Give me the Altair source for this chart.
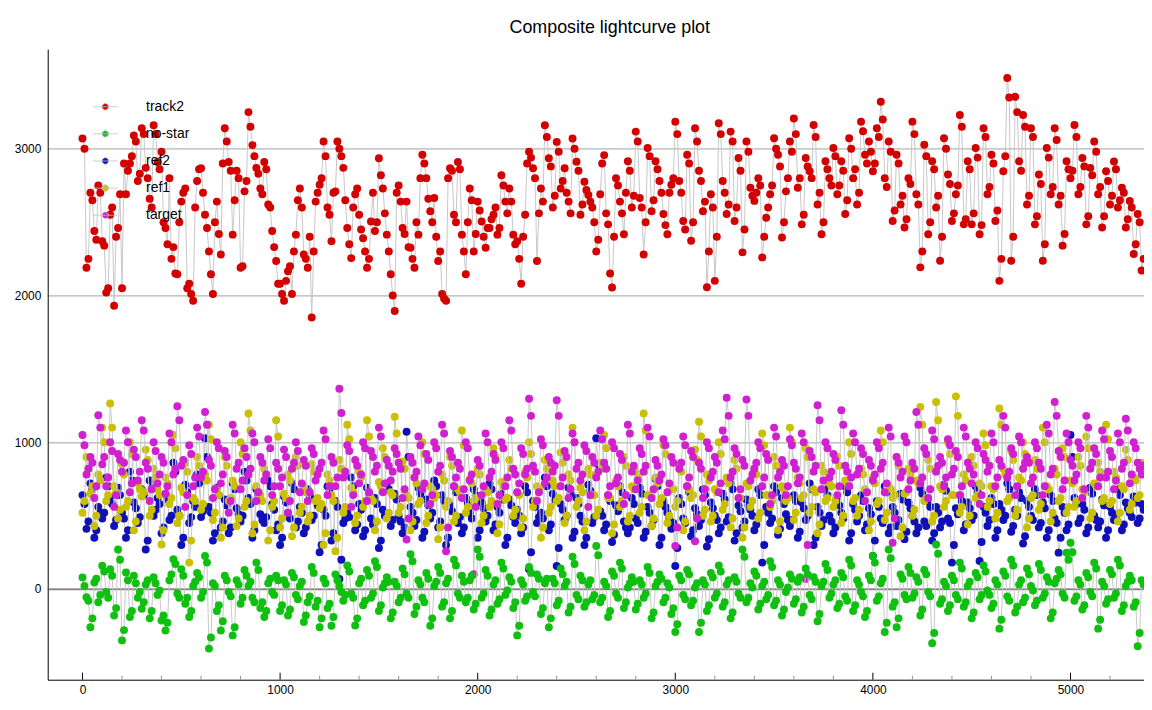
import altair as alt
import pandas as pd

# ---------------- data ----------------
# Each series is sampled every 20 time units (main list) and the readings
# in between (at +10) are kept in a second list.
x_start = 0
x_step = 20

track2 = [
    3070, 2190, 2700, 2440, 2750, 2370, 2020, 2550, 1930, 2460,
    2050, 2690, 2900, 3090, 2780, 3140, 2870, 2660, 3160, 2910,
    2980, 2460, 2800, 2330, 2145, 2640, 2730, 2080, 1965, 2780,
    2867, 2550, 2300, 2010, 2640, 2280, 3140, 2910, 2415, 2850,
    2190, 2710, 3250, 3025, 2870, 2730, 2910, 2620, 2440, 2235,
    2080, 1965, 2165, 2010, 2415, 2730, 2280, 2190, 1850, 2640,
    2755, 3050, 2600, 2370, 2710, 3000, 2870, 2460, 2255, 2690,
    2550, 2390, 2190, 2505, 2440, 2935, 2730, 2415, 2145, 1895,
    2750, 2460, 2640, 2325, 2190, 2415, 2960, 2800, 2575, 2665,
    2235, 2010, 1965, 2867, 2550, 2910, 2415, 2145, 2730, 2300,
    2640, 2505, 2325, 2460, 2550, 2415, 2820, 2640, 2730, 2415,
    2370, 2080, 2550, 2980, 2867, 2235, 2730, 3160, 2935, 2600,
    3047, 2730, 2867, 2640, 3070, 2912, 2550, 2775, 2685, 2600,
    2300, 2690, 2957, 2485, 2055, 2800, 2640, 2418, 2915, 2600,
    3117, 2665, 2280, 3005, 2575, 2915, 2780, 2555, 2418, 2755,
    3185, 2780, 2508, 2960, 2373, 3140, 2850, 2575, 2057, 2690,
    2100, 3174, 2780, 2555, 3117, 2508, 2937, 2294, 3050, 2735,
    2645, 2800, 2260, 2530, 2690, 3072, 2960, 2395, 2710, 3050,
    3207, 2735, 2485, 2937, 2847, 3162, 2620, 2418, 2915, 2800,
    3005, 2690, 2915, 2555, 3072, 2800, 2620, 3185, 2960, 3050,
    2847, 3140, 3320, 2800, 3050, 2508, 2960, 2620, 2463, 2800,
    3185, 2690, 2192, 3027, 2418, 2915, 2600, 2237, 3072, 2825,
    2508, 2690, 3230, 2485, 2915, 2485, 3005, 2418, 3140, 2690,
    2960, 2508, 2100, 2847, 3483, 2237, 3354, 2915, 3230, 2620,
    3140, 2485, 2825, 2237, 3005, 2690, 3140, 2620, 2340, 2915,
    2800, 3162, 2690, 2937, 2485, 2870, 3050, 2690, 2463, 2847,
    2620, 2914, 2600, 2735, 2463, 2645, 2283, 2555, 2170,
]
track2_mid = [
    3000, 2250, 2650, 2380, 2700, 2340, 2050, 2600, 2400, 2690,
    2900, 2850, 2950, 3050, 2830, 3100, 2800, 2600, 3100, 2860,
    2500, 2350, 2250, 2150, 2500, 2700, 2050, 2010, 2600, 2860,
    2700, 2460, 2145, 2500, 2420, 2900, 3050, 2850, 2650, 2800,
    2200, 2780, 3150, 2950, 2830, 2690, 2860, 2600, 2330, 2080,
    2010, 2100, 2200, 2300, 2650, 2600, 2250, 2400, 2300, 2700,
    2800, 2950, 2550, 2700, 3050, 2950, 2650, 2350, 2600, 2730,
    2450, 2300, 2250, 2700, 2500, 2820, 2560, 2300, 2000, 2700,
    2640, 2420, 2330, 2250, 2500, 2800, 2900, 2660, 2500, 2400,
    2300, 1980, 2800, 2850, 2500, 2860, 2300, 2500, 2650, 2420,
    2580, 2400, 2460, 2520, 2600, 2460, 2750, 2560, 2640, 2350,
    2250, 2400, 2900, 2940, 2800, 2560, 2640, 3080, 2880, 2680,
    2980, 2780, 2700, 2560, 3000, 2850, 2620, 2720, 2640, 2500,
    2380, 2900, 2560, 2150, 2400, 2750, 2560, 2700, 2850, 2680,
    3050, 2600, 2500, 2950, 2650, 2860, 2700, 2480, 2700, 2800,
    3100, 2700, 2450, 2900, 2500, 3050, 2780, 2640, 2300, 2600,
    2400, 3100, 2700, 2620, 3050, 2600, 2850, 2450, 2980, 2680,
    2700, 2750, 2400, 2600, 2750, 3000, 2880, 2500, 2800, 2980,
    3100, 2800, 2550, 2880, 2800, 3080, 2700, 2500, 2860, 2750,
    2950, 2750, 2850, 2650, 3000, 2860, 2700, 3120, 2900, 2980,
    2900, 3080, 3200, 2740, 2980, 2580, 2900, 2680, 2520, 2760,
    3100, 2620, 2300, 2950, 2500, 2860, 2680, 2400, 3000, 2760,
    2560, 2750, 3150, 2520, 2860, 2560, 2940, 2480, 3080, 2740,
    2900, 2580, 2250, 2950, 3350, 2400, 3250, 2850, 3150, 2680,
    3080, 2540, 2760, 2350, 2940, 2740, 3060, 2680, 2420, 2860,
    2850, 3080, 2740, 2880, 2540, 2820, 2980, 2740, 2540, 2780,
    2680, 2860, 2650, 2700, 2520, 2600, 2350, 2500, 2250,
]

no_star = [
    79, -56, -260, 45, -90, 158, -20, 135, -180, 270,
    -350, 113, -190, 90, -60, -135, 30, -200, 80, -40,
    -214, -282, 60, 203, -30, 135, -100, -190, 20, 110,
    -60, 225, -406, 40, -150, -282, 90, -20, -316, 60,
    -100, 130, 20, -60, 180, -130, -190, 40, -20, 90,
    -150, 60, -180, 110, -40, 20, -225, -90, 150, -120,
    -260, 70, -130, -250, 100, 20, -80, 160, -30, -248,
    40, -110, 130, -60, 190, -150, 10, 80, -200, 50,
    -90, 140, -30, 237, -170, 60, -60, 110, -250, 20,
    150, -120, 40, -200, 200, -30, 90, -90, 60, -140,
    270, -60, 130, -180, 30, -100, 180, -40, 80, -130,
    -316, 60, -80, 150, -20, 100, -170, 40, -260, 70,
    -110, 140, 20, -160, 220, -40, 90, -120, 30, -70,
    293, -90, 50, -190, 120, -30, 180, -130, 10, 80,
    -140, 60, -60, 150, -200, 20, 100, -90, 40, -170,
    -293, 90, -40, 130, -110, 10, -293, 60, -150, 110,
    -60, 160, -120, 30, -200, 80, -30, 270, -90, 40,
    120, -140, 20, -70, 190, -110, 60, -180, -20, 100,
    -100, 50, -160, 140, -40, 80, -220, 20, 170, -60,
    30, -130, 110, -50, 200, -150, 60, -20, -190, 90,
    225, -80, 40, -293, 270, -120, -260, 100, -40, 150,
    -60, 80, -180, 130, -20, -370, 304, -100, 50, -150,
    90, -40, 180, -120, 20, -200, 110, -70, 160, -10,
    -130, 60, -270, 120, -50, 200, -160, 30, -90, 140,
    20, -110, 170, -60, 80, -200, 40, 130, -30, 248,
    316, -80, 60, -140, 110, -20, 180, -270, 50, -100,
    130, -60, 200, -150, 20, 90, -120, -390, 60,
]
no_star_mid = [
    20, -80, -200, 70, -40, 120, -60, 90, -130, 200,
    -280, 60, -150, 40, -20, -90, 60, -150, 40, -10,
    -180, -230, 100, 170, -60, 90, -60, -150, 50, 80,
    -20, 180, -330, 20, -110, -220, 60, -50, -260, 30,
    -60, 90, 50, -90, 130, -90, -150, 70, -40, 60,
    -110, 30, -140, 80, -70, 50, -180, -50, 110, -80,
    -200, 40, -100, -190, 60, -20, -40, 120, -60, -200,
    70, -80, 90, -30, 150, -110, 40, 50, -160, 20,
    -60, 100, -60, 190, -120, 30, -90, 70, -200, 50,
    110, -90, 70, -150, 160, -60, 50, -60, 90, -100,
    220, -30, 90, -140, 60, -70, 140, -10, 50, -90,
    -250, 30, -50, 110, -50, 70, -130, 70, -200, 40,
    -80, 100, 50, -120, 170, -70, 60, -90, 60, -40,
    230, -60, 20, -150, 90, -60, 140, -90, 40, 50,
    -100, 30, -30, 110, -160, 50, 70, -60, 10, -130,
    -240, 60, -70, 100, -80, 40, -230, 30, -110, 80,
    -30, 120, -90, 60, -160, 50, -60, 220, -60, 10,
    90, -100, 50, -40, 150, -80, 30, -140, 10, 70,
    -70, 80, -120, 100, -70, 50, -170, 50, 130, -30,
    60, -100, 80, -80, 160, -110, 30, -50, -150, 60,
    180, -50, 70, -230, 210, -90, -200, 70, -70, 110,
    -30, 50, -140, 100, -50, -300, 240, -70, 20, -110,
    60, -70, 140, -90, 50, -160, 80, -40, 120, -40,
    -100, 30, -210, 90, -80, 160, -120, 60, -60, 100,
    -10, -80, 130, -30, 50, -160, 70, 100, -60, 200,
    250, -50, 30, -110, 80, -50, 140, -210, 20, -70,
    100, -30, 160, -110, 50, 60, -90, -300, 30,
]

ref2 = [
    640, 410, 720, 350, 560, 480, 760, 620, 430, 690,
    520, 350, 800, 590, 450, 680, 270, 740, 500, 620,
    380, 650, 470, 860, 540, 300, 710, 450, 600, 780,
    490, 1027, 560, 330, 690, 420, 610, 380, 720, 550,
    460, 800, 620, 350, 680, 510, 450, 740, 580, 400,
    300, 630, 520, 720, 420, 560, 380, 680, 470, 610,
    250, 540, 700, 330, 600, 68, 450, 520, 760, 400,
    580, 360, 690, 480, 620, 280, 540, 720, 430, 650,
    500, 380, 1072, 560, 430, 690, 350, 610, 480, 740,
    420, 640, 300, 570, 700, 450, 380, 620, 520, 680,
    350, 590, 460, 720, 400, 560, 650, 300, 610, 490,
    540, 380, 700, 135, 600, 450, 520, 760, 400, 650,
    157, 580, 470, 690, 350, 620, 500, 300, 710, 450,
    1027, 530, 400, 640, 320, 570, 700, 460, 380, 620,
    480, 690, 350, 560, 430, 750, 300, 600, 520, 410,
    157, 620, 480, 700, 360, 550, 430, 680, 290, 590,
    500, 380, 650, 460, 720, 330, 570, 420, 610, 540,
    400, 680, 180, 560, 450, 700, 370, 620, 510, 430,
    640, 350, 590, 470, 720, 300, 560, 430, 680, 500,
    380, 610, 520, 700, 330, 580, 460, 640, 400, 550,
    225, 600, 480, 700, 380, 560, 430, 650, 340, 590,
    500, 380, 690, 460, 600, 330, 560, 420, 710, 480,
    180, 550, 640, 400, 590, 470, 700, 191, 560, 430,
    620, 350, 580, 470, 720, 390, 540, 660, 310, 600,
    500, 680, 420, 590, 350, 640, 480, 248, 560, 400,
    1049, 620, 450, 580, 380, 690, 500, 420, 610, 350,
    560, 470, 680, 400, 590, 520, 630, 450, 580,
]
ref2_mid = [
    580, 460, 680, 400, 520, 520, 700, 580, 470, 640,
    480, 400, 740, 550, 490, 640, 330, 690, 540, 580,
    420, 610, 500, 800, 500, 350, 660, 490, 560, 720,
    530, 900, 520, 380, 640, 460, 570, 420, 680, 510,
    500, 740, 580, 400, 640, 470, 490, 700, 540, 440,
    350, 590, 480, 680, 460, 520, 420, 640, 500, 570,
    300, 500, 660, 380, 560, 200, 480, 490, 700, 440,
    540, 400, 650, 440, 580, 330, 500, 680, 470, 610,
    460, 420, 900, 520, 470, 650, 390, 570, 520, 700,
    460, 600, 350, 530, 660, 490, 420, 580, 480, 640,
    400, 550, 500, 680, 440, 520, 610, 350, 570, 450,
    500, 420, 660, 250, 560, 490, 480, 700, 440, 610,
    280, 540, 500, 650, 390, 580, 460, 350, 670, 490,
    850, 500, 440, 600, 370, 530, 660, 420, 420, 580,
    450, 650, 390, 520, 470, 700, 350, 560, 480, 450,
    280, 580, 450, 660, 400, 510, 470, 640, 340, 550,
    470, 420, 610, 490, 680, 380, 530, 460, 570, 500,
    440, 640, 300, 520, 480, 660, 410, 580, 470, 470,
    600, 390, 550, 500, 680, 350, 520, 470, 640, 460,
    420, 570, 480, 660, 380, 540, 500, 600, 440, 510,
    330, 560, 450, 660, 420, 520, 470, 610, 390, 550,
    460, 420, 650, 430, 560, 380, 520, 460, 670, 450,
    300, 510, 600, 440, 550, 500, 660, 320, 520, 470,
    580, 400, 540, 500, 680, 430, 500, 620, 360, 560,
    470, 640, 450, 550, 400, 600, 450, 350, 520, 440,
    900, 580, 480, 540, 420, 650, 470, 460, 570, 400,
    520, 500, 640, 440, 550, 490, 590, 480, 540,
]

ref1 = [
    520, 900, 650, 430, 780, 1100, 600, 1264, 700, 480,
    850, 560, 1000, 400, 720, 630, 950, 500, 820, 680,
    304, 760, 580, 1050, 450, 690, 860, 180, 620, 900,
    540, 780, 1120, 470, 680, 350, 900, 600, 740, 430,
    1000, 560, 1196, 380, 700, 640, 820, 330, 560, 1150,
    420, 650, 780, 360, 900, 520, 700, 460, 850, 600,
    550, 300, 780, 640, 258, 880, 520, 1120, 690, 450,
    800, 560, 1150, 620, 400, 730, 960, 480, 660, 1174,
    520, 870, 640, 400, 760, 580, 1000, 450, 700, 620,
    340, 780, 560, 900, 460, 680, 1080, 520, 750, 600,
    820, 450, 680, 560, 960, 380, 730, 610, 880, 500,
    660, 420, 800, 1000, 560, 700, 350, 880, 520, 740,
    600, 930, 450, 780, 1100, 560, 690, 400, 820, 640,
    500, 860, 1050, 620, 380, 740, 560, 900, 460, 700,
    800, 520, 1196, 640, 430, 760, 580, 980, 450, 690,
    560, 850, 400, 700, 620, 950, 1140, 500, 780, 460,
    680, 1000, 540, 760, 420, 880, 620, 350, 720, 560,
    820, 480, 1060, 640, 560, 900, 400, 700, 600, 1100,
    470, 760, 620, 960, 520, 680, 380, 840, 600, 720,
    560, 900, 450, 740, 1000, 600, 500, 820, 680, 400,
    760, 580, 1080, 470, 700, 620, 900, 360, 650, 820,
    500, 740, 1241, 600, 880, 460, 1275, 700, 560, 1000,
    640, 1313, 520, 780, 440, 900, 620, 720, 1060, 560,
    700, 480, 1230, 820, 600, 940, 500, 760, 1000, 420,
    620, 880, 540, 1100, 700, 460, 820, 600, 960, 520,
    740, 560, 900, 680, 1040, 480, 720, 860, 600, 1120,
    580, 800, 460, 700, 950, 540, 760, 620, 860,
]
ref1_mid = [
    600, 820, 700, 500, 740, 1000, 640, 1100, 660, 540,
    780, 600, 920, 460, 680, 660, 880, 540, 760, 640,
    400, 720, 620, 960, 500, 660, 800, 330, 600, 840,
    580, 740, 1020, 520, 640, 420, 840, 620, 700, 480,
    920, 600, 1080, 440, 660, 600, 780, 400, 600, 1040,
    480, 620, 740, 420, 840, 560, 660, 500, 800, 620,
    580, 380, 740, 600, 350, 820, 560, 1020, 660, 500,
    760, 600, 1040, 600, 460, 700, 900, 520, 640, 1060,
    560, 820, 620, 460, 720, 600, 920, 500, 680, 640,
    420, 740, 600, 840, 500, 660, 980, 560, 720, 620,
    780, 500, 660, 600, 900, 440, 700, 620, 820, 540,
    640, 480, 760, 920, 600, 680, 420, 820, 560, 700,
    620, 860, 500, 740, 1000, 600, 660, 460, 780, 640,
    540, 820, 960, 620, 440, 700, 600, 840, 500, 680,
    760, 560, 1080, 640, 480, 720, 620, 920, 500, 680,
    600, 800, 460, 680, 640, 880, 1040, 540, 740, 500,
    660, 920, 580, 720, 480, 820, 620, 420, 700, 600,
    780, 520, 980, 640, 600, 840, 460, 680, 620, 1000,
    520, 720, 640, 900, 560, 660, 440, 800, 620, 700,
    600, 840, 500, 720, 920, 620, 540, 780, 660, 460,
    720, 600, 1000, 520, 680, 640, 840, 420, 660, 780,
    540, 720, 1120, 620, 820, 500, 1150, 680, 600, 920,
    640, 1180, 560, 740, 500, 840, 640, 700, 980, 600,
    680, 520, 1120, 780, 620, 880, 540, 740, 920, 480,
    640, 820, 580, 1000, 680, 520, 780, 620, 900, 560,
    720, 600, 840, 660, 960, 520, 700, 800, 620, 1020,
    600, 760, 520, 680, 880, 580, 740, 640, 820,
]

target = [
    1050, 780, 900, 620, 1184, 850, 700, 1000, 560, 920,
    800, 1080, 660, 950, 740, 1150, 860, 600, 1000, 720,
    900, 650, 1060, 780, 1245, 840, 560, 980, 700, 1100,
    760, 1207, 880, 620, 1000, 720, 940, 520, 1120, 820,
    680, 960, 780, 1060, 600, 900, 740, 1020, 640, 860,
    700, 950, 520, 820, 1000, 660, 880, 600, 960, 740,
    820, 1080, 640, 900, 700, 1365, 760, 980, 560, 880,
    720, 1000, 600, 940, 800, 1100, 660, 880, 740, 960,
    860, 620, 337, 900, 760, 1040, 680, 920, 580, 1000,
    800, 1120, 258, 940, 700, 860, 620, 1000, 740, 101,
    880, 640, 1060, 760, 920, 580, 1000, 700, 1150, 820,
    660, 960, 780, 1297, 840, 600, 1020, 720, 900, 800,
    1286, 700, 940, 620, 1060, 820, 740, 980, 560, 900,
    760, 1080, 860, 640, 1000, 720, 920, 580, 1120, 800,
    680, 960, 800, 1100, 620, 880, 740, 1020, 660, 900,
    293, 820, 1040, 700, 940, 326, 860, 620, 1000, 760,
    900, 660, 1080, 1304, 760, 960, 620, 880, 1292, 740,
    820, 1000, 700, 920, 580, 1100, 760, 880, 640, 1020,
    860, 720, 1060, 68, 940, 800, 1252, 680, 1000, 760,
    920, 640, 1219, 840, 700, 1060, 780, 960, 600, 880,
    740, 1000, 820, 660, 1100, 315, 900, 760, 1040, 680,
    860, 1207, 720, 960, 620, 1080, 800, 900, 700, 1020,
    780, 940, 640, 1100, 860, 720, 1000, 580, 920, 800,
    1060, 700, 880, 1180, 760, 960, 640, 1040, 820, 900,
    720, 1000, 860, 640, 1120, 780, 1275, 940, 680, 1060,
    880, 740, 1000, 620, 1180, 820, 960, 700, 1080, 760,
    940, 680, 1060, 820, 1160, 720, 1000, 860, 780,
]
target_mid = [
    980, 820, 860, 700, 1100, 900, 760, 940, 640, 880,
    860, 1000, 720, 900, 800, 1080, 820, 680, 940, 780,
    860, 700, 1000, 820, 1150, 880, 640, 920, 760, 1040,
    800, 1120, 840, 680, 960, 780, 900, 600, 1060, 860,
    740, 900, 820, 1000, 660, 860, 780, 960, 700, 820,
    760, 900, 600, 860, 940, 720, 840, 660, 920, 780,
    860, 1020, 700, 860, 760, 1200, 800, 940, 640, 840,
    780, 960, 660, 900, 840, 1040, 720, 840, 800, 920,
    820, 680, 480, 860, 800, 980, 720, 880, 640, 960,
    840, 1060, 420, 900, 760, 820, 680, 960, 780, 560,
    840, 700, 1000, 800, 880, 640, 960, 760, 1080, 780,
    720, 920, 820, 1180, 800, 660, 980, 760, 860, 840,
    1180, 760, 900, 680, 1000, 860, 780, 940, 640, 860,
    800, 1020, 820, 700, 960, 760, 880, 640, 1060, 840,
    740, 920, 840, 1040, 680, 840, 780, 980, 720, 860,
    420, 860, 980, 760, 900, 480, 820, 680, 960, 800,
    860, 720, 1020, 1180, 800, 920, 680, 840, 1180, 780,
    860, 960, 760, 880, 640, 1040, 800, 840, 700, 980,
    820, 760, 1000, 300, 900, 840, 1150, 740, 960, 800,
    880, 700, 1120, 800, 760, 1000, 820, 920, 660, 840,
    780, 960, 860, 720, 1040, 480, 860, 800, 1000, 740,
    820, 1120, 760, 920, 680, 1020, 840, 860, 760, 980,
    820, 900, 700, 1040, 820, 780, 960, 640, 880, 840,
    1000, 760, 840, 1100, 800, 920, 700, 1000, 860, 860,
    760, 960, 820, 700, 1060, 820, 1180, 900, 740, 1000,
    840, 780, 960, 680, 1100, 860, 920, 760, 1020, 800,
    900, 740, 1000, 860, 1080, 780, 960, 820, 840,
]

series_names = ["track2", "no-star", "ref2", "ref1", "target"]
series_colors = ["#d20000", "#10c010", "#1010b8", "#c8c000", "#d020d0"]
series_values = {"track2": (track2, track2_mid),
                 "no-star": (no_star, no_star_mid),
                 "ref2": (ref2, ref2_mid),
                 "ref1": (ref1, ref1_mid),
                 "target": (target, target_mid)}
draw_order = ["ref2", "ref1", "target", "no-star", "track2"]

x_major = [0, 1000, 2000, 3000, 4000, 5000]
x_minor = [200, 400, 600, 800, 1200, 1400, 1600, 1800, 2200, 2400, 2600,
           2800, 3200, 3400, 3600, 3800, 4200, 4400, 4600, 4800, 5200]
y_ticks = [0, 1000, 2000, 3000]
x_domain = [-176, 5372]
y_domain = [-618, 3679]

# ---------------- build table ----------------
rows = []
for name in series_names:
    main, mid = series_values[name]
    for i, v in enumerate(main):
        rows.append({"series": name, "x": x_start + i * x_step, "v": v})
    for i, v in enumerate(mid):
        rows.append({"series": name, "x": x_start + x_step // 2 + i * x_step,
                     "v": v})
df = pd.DataFrame(rows).sort_values(["series", "x"]).reset_index(drop=True)

W, H = 1104, 635
FONT = "Liberation Sans"

xs = alt.Scale(domain=x_domain, nice=False, zero=False)
ys = alt.Scale(domain=y_domain, nice=False, zero=False)

x_axis = alt.Axis(values=x_major, format="d", grid=False, ticks=False,
                  tickSize=0, domainColor="#000000", domainWidth=1,
                  labelFont=FONT, labelFontSize=12, labelColor="#000000",
                  labelPadding=5, title=None)
y_axis = alt.Axis(values=y_ticks, format="d", grid=True, gridColor="#a0a0a0",
                  gridWidth=1, ticks=False, tickSize=0,
                  domainColor="#000000", domainWidth=1, labelFont=FONT,
                  labelFontSize=12, labelColor="#000000", labelPadding=7,
                  title=None)

legend_symbol = ("M-1,0L1,0M0.26,0A0.26,0.26,0,1,1,-0.26,0"
                 "A0.26,0.26,0,1,1,0.26,0Z")
legend = alt.Legend(title=None, orient="none", legendX=45, legendY=45,
                    symbolType=legend_symbol, symbolSize=625,
                    symbolStrokeColor="#c0c0c0", symbolStrokeWidth=0.8,
                    labelFont=FONT, labelFontSize=14, labelColor="#000000",
                    labelOffset=28, rowPadding=7.3, padding=0)

color = alt.Color("series:N",
                  scale=alt.Scale(domain=series_names, range=series_colors),
                  legend=legend)

X = alt.X("x:Q", scale=xs, axis=x_axis)
Y = alt.Y("v:Q", scale=ys, axis=y_axis)

base = alt.Chart(df)
layers = []

# zero line (darker than other grid lines)
zero_df = pd.DataFrame({"v": [0]})
layers.append(alt.Chart(zero_df).mark_rule(color="#505050", strokeWidth=1)
              .encode(y=Y))

for name in draw_order:
    sub = base.transform_filter(alt.datum.series == name)
    layers.append(sub.mark_line(color="#c8c8c8", strokeWidth=1).encode(
        x=X, y=Y, detail="series:N"))
    layers.append(sub.mark_point(filled=True, size=64, opacity=1,
                                 shape="circle").encode(
        x=X, y=Y, color=color))

# inward tick marks on the x axis
major_df = pd.DataFrame({"x": x_major})
minor_df = pd.DataFrame({"x": x_minor})
layers.append(alt.Chart(major_df).mark_rule(color="#000000").encode(
    x=X, y=alt.value(H), y2=alt.value(H - 7)))
layers.append(alt.Chart(minor_df).mark_rule(color="#909090").encode(
    x=X, y=alt.value(H), y2=alt.value(H - 4)))

chart = alt.layer(*layers).properties(
    width=W, height=H,
    background="#ffffff",
    title=alt.TitleParams("Composite lightcurve plot", font=FONT,
                          fontSize=18, fontWeight="normal", color="#000000",
                          anchor="middle", dx=14, offset=12),
    autosize=alt.AutoSizeParams(type="none"),
    padding={"left": 40, "top": 39, "right": 0, "bottom": 20},
).configure_view(stroke=None)

chart.save("out.html", embed_options={"renderer": "svg", "actions": False})
